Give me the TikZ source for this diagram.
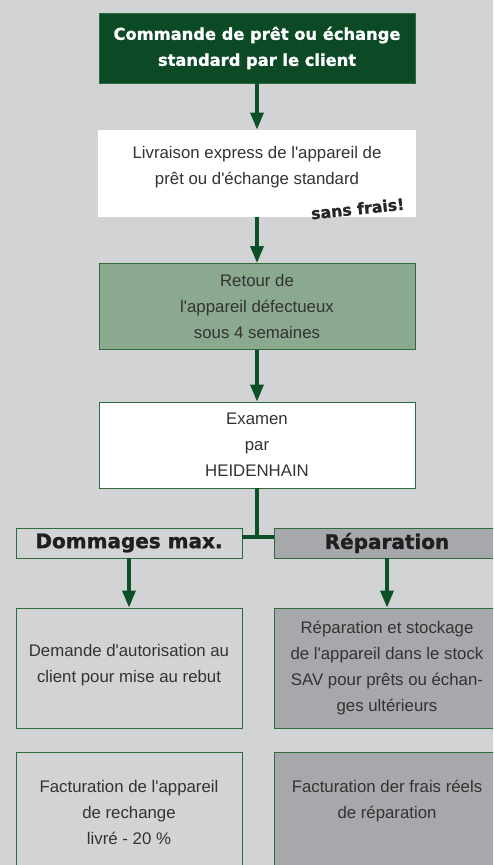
\documentclass[tikz,border=0pt]{standalone}
\usepackage{fontspec}
\setmainfont{Liberation Sans}[Ligatures=TeXOff]
\newfontfamily\heavyfont{DejaVu Sans Bold}[FakeBold=1.2]
\usepackage{tikz}
\usetikzlibrary{arrows.meta,positioning}
\definecolor{svbg}{HTML}{D1D3D4}
\definecolor{svdark}{HTML}{0B4A25}
\definecolor{svarrowc}{HTML}{0B5027}
\definecolor{svline}{HTML}{2E6A3E}
\definecolor{svsage}{HTML}{8BA98F}
\definecolor{svgray}{HTML}{A7A8AB}
\definecolor{svtext}{HTML}{333333}
\tikzset{
  svbox/.style={draw=svline, line width=0.9pt, fill=white, align=center,
    inner sep=0pt, minimum width=316pt, minimum height=86pt, text=svtext,
    font=\fontsize{16.8}{26}\selectfont},
  svhead/.style={draw=svline, line width=0.9pt, fill=svdark, align=center,
    inner sep=0pt, minimum width=316pt, minimum height=70pt, text=white,
    font=\heavyfont\fontsize{16.3}{26}\selectfont},
  svtag/.style={draw=svline, line width=0.9pt, inner sep=0pt,
    minimum width=226pt, minimum height=30pt, text=black!88,
    font=\heavyfont\fontsize{20}{24}\selectfont},
  svcell/.style={draw=svline, line width=0.9pt, align=center, inner sep=0pt,
    minimum width=226pt, minimum height=120pt, text=svtext,
    font=\fontsize{16.8}{26}\selectfont},
  svfree/.style={text=black!85, inner sep=0pt, font=\heavyfont\fontsize{15.8}{18}\selectfont},
  svarrow/.style={-{Triangle[width=13pt,length=17pt]}, line width=3.4pt, draw=svarrowc},
  svlink/.style={line width=3.4pt, draw=svarrowc}
}
\begin{document}
\begin{tikzpicture}[x=1pt,y=-1pt]
  \path[use as bounding box, fill=svbg] (0,0) rectangle (493,865);
  \clip (0,0) rectangle (493,865);
  % main column
  \node[svhead] (cmd) at (257,48) {Commande de prêt ou échange\\standard par le client};
  \node[svbox, draw=none, minimum width=318pt, minimum height=87pt] (livr) at (257,173.5)
    {Livraison express de l'appareil de\\prêt ou d'échange standard\\[-10pt]~};
  \node[svfree, rotate=6, anchor=south east] (free) at (405,210) {sans frais!};
  \node[svbox, fill=svsage] (ret) at (257,306.5) {Retour de\\l'appareil défectueux\\sous 4 semaines};
  \node[svbox] (exa) at (257,445) {Examen\\par\\HEIDENHAIN};
  % the two branches
  \node[svtag, fill=svbg] (dom) at (129,543) {Dommages max.};
  \node[svtag, fill=svgray] (rep) at (387,543) {Réparation};
  \node[svcell, fill=svbg] (dem) at (129,668) {Demande d'autorisation au\\client pour mise au rebut\\[-16pt]~};
  \node[svcell, fill=svgray] (stk) at (387,668)
    {Réparation et stockage\\de l'appareil dans le stock\\SAV pour prêts ou échan-\\ges ultérieurs};
  \node[svcell, fill=svbg] (fac) at (129,812) {Facturation de l'appareil\\de rechange\\livré - 20 \%};
  \node[svcell, fill=svgray] (frs) at (387,812) {Facturation der frais réels\\de réparation\\~};
  \coordinate (split) at (257,537);
  \draw[svarrow] (cmd.south) -- (cmd.south |- livr.north);
  \draw[svarrow] (livr.south) -- (livr.south |- ret.north);
  \draw[svarrow] (ret.south) -- (ret.south |- exa.north);
  \draw[svlink] (exa.south) -- (split);
  \draw[svlink] (dom.east |- split) -- (rep.west |- split);
  \draw[svarrow] (dom.south) -- (dom.south |- dem.north);
  \draw[svarrow] (rep.south) -- (rep.south |- stk.north);
\end{tikzpicture}
\end{document}
